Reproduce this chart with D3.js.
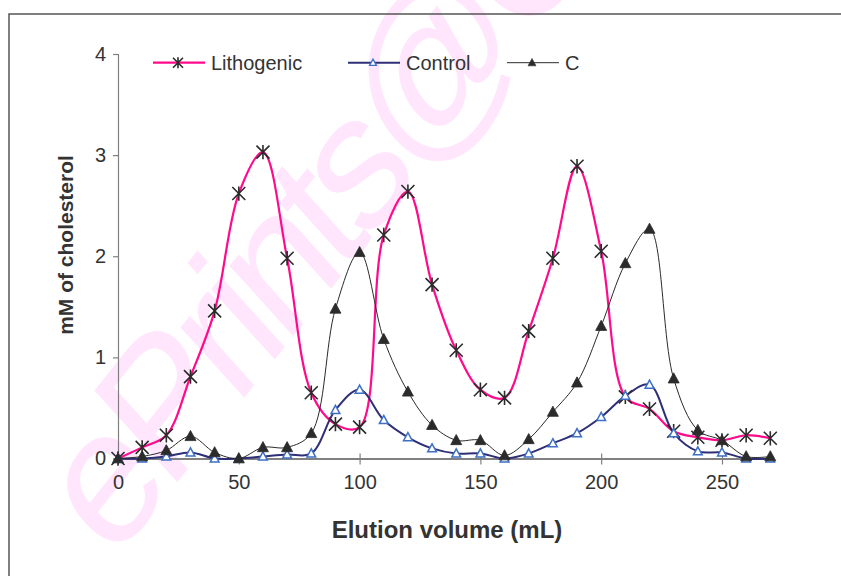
<!DOCTYPE html>
<html>
<head>
<meta charset="utf-8">
<script src="https://cdn.jsdelivr.net/npm/d3@7/dist/d3.min.js"></script>
<style>
  html, body { margin: 0; padding: 0; background: #fff; }
  svg { display: block; font-family: "Liberation Sans", Arial, sans-serif; }
</style>
</head>
<body>
<svg id="chart" width="841" height="576"></svg>
<script>
// Elution volume (mL), one fraction every 10 mL
const volumes = [0, 10, 20, 30, 40, 50, 60, 70, 80, 90, 100, 110, 120, 130,
  140, 150, 160, 170, 180, 190, 200, 210, 220, 230, 240, 250, 260, 270];

// mM of cholesterol per fraction
const lithogenic = [0.00, 0.11, 0.23, 0.81, 1.46, 2.62, 3.03, 1.98, 0.65, 0.34,
  0.31, 2.21, 2.64, 1.72, 1.07, 0.68, 0.60, 1.26, 1.98, 2.89,
  2.05, 0.61, 0.49, 0.27, 0.21, 0.18, 0.23, 0.20];
const control = [0.00, 0.00, 0.02, 0.06, 0.00, 0.00, 0.02, 0.04, 0.05, 0.48,
  0.68, 0.38, 0.21, 0.10, 0.05, 0.05, 0.00, 0.05, 0.15, 0.25,
  0.41, 0.62, 0.73, 0.25, 0.07, 0.06, 0.00, 0.00];
const seriesC = [0.00, 0.02, 0.08, 0.22, 0.06, 0.00, 0.11, 0.11, 0.25, 1.48,
  2.04, 1.18, 0.66, 0.33, 0.18, 0.18, 0.03, 0.19, 0.46, 0.75,
  1.31, 1.93, 2.27, 0.79, 0.28, 0.18, 0.02, 0.02];

const seriesNames = ["Lithogenic", "Control", "C"];
const xTicks = [0, 50, 100, 150, 200, 250];
const yTicks = [0, 1, 2, 3, 4];

const svg = d3.select("#chart");

// faint watermark behind the plot
svg.append("text")
  .attr("transform", "translate(112,564) scale(1,1.18) rotate(-46.8)")
  .attr("font-size", 165)
  .attr("letter-spacing", -10)
  .attr("fill", "#ffe6fc")
  .text("ePrints@C");

// outer frame
svg.append("rect")
  .attr("x", 9).attr("y", 14)
  .attr("width", 900).attr("height", 700)
  .attr("fill", "none")
  .attr("stroke", "#555")
  .attr("stroke-width", 1.5);

const x = d3.scaleLinear().domain([0, 270]).range([118, 770.3]);
const y = d3.scaleLinear().domain([0, 4]).range([458.5, 54]);

// y axis
const yAxis = svg.append("g")
  .attr("transform", `translate(${x(0)},0)`)
  .call(d3.axisLeft(y).tickValues(yTicks).tickSize(5).tickPadding(7).tickFormat(d3.format("d")));
yAxis.select(".domain").attr("stroke", "#808080").attr("stroke-width", 1.2);
yAxis.selectAll(".tick line").attr("stroke", "#808080").attr("stroke-width", 1.2);
yAxis.selectAll(".tick text")
  .attr("font-size", 20).attr("fill", "#333")
  .attr("font-family", "Liberation Sans, Arial, sans-serif");

// x axis (cross ticks)
const xAxis = svg.append("g")
  .attr("transform", `translate(0,${y(0)})`)
  .call(d3.axisBottom(x).tickValues(xTicks).tickSizeOuter(0).tickSize(0).tickPadding(16).tickFormat(d3.format("d")));
xAxis.select(".domain").attr("stroke", "#808080").attr("stroke-width", 2);
xAxis.selectAll(".tick line").attr("y1", -5).attr("y2", 6)
  .attr("stroke", "#808080").attr("stroke-width", 1.2);
xAxis.selectAll(".tick text")
  .attr("font-size", 20).attr("fill", "#333")
  .attr("font-family", "Liberation Sans, Arial, sans-serif");

// axis titles
svg.append("text")
  .attr("x", 447).attr("y", 538)
  .attr("text-anchor", "middle")
  .attr("font-size", 24).attr("font-weight", "bold").attr("fill", "#333")
  .text("Elution volume (mL)");
svg.append("text")
  .attr("transform", "translate(73,245) rotate(-90)")
  .attr("text-anchor", "middle")
  .attr("font-size", 21).attr("font-weight", "bold").attr("fill", "#333")
  .text("mM of cholesterol");

// marker shapes
const asterisk = (g, s) => {
  g.append("path")
    .attr("d", `M${-s},${-s}L${s},${s}M${-s},${s}L${s},${-s}M0,${-s * 1.1}L0,${s * 1.1}`)
    .attr("stroke", "#2b2b2b").attr("stroke-width", 1.6).attr("fill", "none");
};
const triangle = (g, s, fill, stroke, sw) => {
  g.append("path")
    .attr("d", `M0,${-s}L${s * 0.95},${s * 0.75}L${-s * 0.95},${s * 0.75}Z`)
    .attr("fill", fill).attr("stroke", stroke).attr("stroke-width", sw);
};

const series = [
  { name: seriesNames[0], values: lithogenic, color: "#ff0a8c", width: 2.2,
    marker: (g) => asterisk(g, 6.5), legendMarker: (g) => asterisk(g, 5) },
  { name: seriesNames[1], values: control, color: "#2f2f78", width: 2,
    marker: (g) => triangle(g, 4.6, "#fff", "#3d6fc4", 1.5),
    legendMarker: (g) => triangle(g, 3.6, "#fff", "#3d6fc4", 1.3) },
  { name: seriesNames[2], values: seriesC, color: "#2a2a2a", width: 1,
    marker: (g) => triangle(g, 5.8, "#2b2b2b", "#2b2b2b", 0.8),
    legendMarker: (g) => triangle(g, 4.2, "#2b2b2b", "#2b2b2b", 0.6) }
];

const line = d3.line()
  .x((d, i) => x(volumes[i]))
  .y(d => y(d))
  .curve(d3.curveCatmullRom.alpha(0.5));

series.forEach(s => {
  svg.append("path")
    .datum(s.values)
    .attr("d", line)
    .attr("fill", "none")
    .attr("stroke", s.color)
    .attr("stroke-width", s.width)
    .attr("stroke-linejoin", "round");
});

series.forEach(s => {
  const g = svg.append("g");
  s.values.forEach((v, i) => {
    const m = g.append("g").attr("transform", `translate(${x(volumes[i])},${y(v)})`);
    s.marker(m);
  });
});

// legend
const legendX = [153, 348, 507];
series.forEach((s, i) => {
  const g = svg.append("g").attr("transform", `translate(${legendX[i]},62.7)`);
  g.append("line").attr("x1", 0).attr("x2", 52).attr("y1", 0).attr("y2", 0)
    .attr("stroke", s.color).attr("stroke-width", i === 2 ? 1 : s.width);
  s.legendMarker(g.append("g").attr("transform", "translate(25,0)"));
  g.append("text").attr("x", 58).attr("y", 7)
    .attr("font-size", 20).attr("fill", "#333")
    .text(s.name);
});
</script>
</body>
</html>
